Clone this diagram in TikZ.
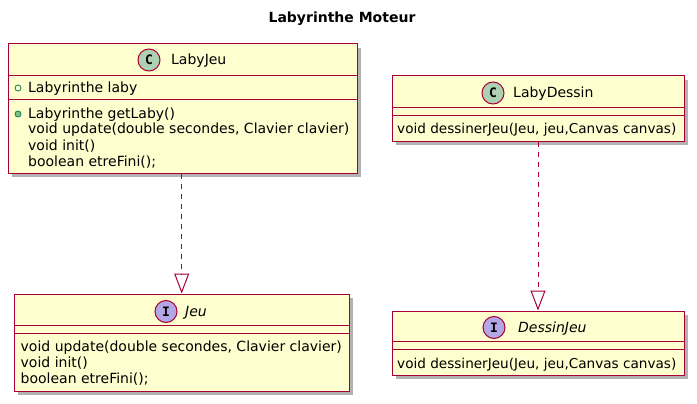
\documentclass[tikz,border=0pt]{standalone}
\usepackage{fontspec}
\setmainfont{DejaVu Sans}
\newfontfamily\spotfont{DejaVu Sans Mono}
\usepackage{tikz}
\usetikzlibrary{arrows.meta,shadows,calc}
\definecolor{umlborder}{HTML}{A80036}
\definecolor{umlfill}{HTML}{FEFECE}
\definecolor{classspot}{HTML}{ADD1B2}
\definecolor{ifacespot}{HTML}{B4A7E5}
\definecolor{visline}{HTML}{038048}
\definecolor{visfill}{HTML}{84BE84}

\begin{document}
\begin{tikzpicture}[x=1pt,y=-1pt,
  font=\fontsize{14}{16}\selectfont,
  umlbox/.style={draw=umlborder, fill=umlfill, line width=1pt, inner sep=0pt,
    drop shadow={shadow xshift=4pt, shadow yshift=-4pt, opacity=0.3, fill=black}},
  umlsep/.style={draw=umlborder, line width=1pt},
  spot/.style={circle, draw=umlborder, line width=1pt, minimum size=22pt, inner sep=0pt,
    font=\spotfont\bfseries\fontsize{13}{13}\selectfont},
  member/.style={anchor=base west, inner sep=0pt},
  narrow/.style={font=\fontsize{13.6}{16}\selectfont},
  vispub/.style={circle, draw=visline, line width=0.8pt, minimum size=6pt, inner sep=0pt},
  realize/.style={draw=umlborder, line width=1pt, dash pattern=on 5pt off 5pt,
    -{Triangle[open, length=20pt, width=15pt]}}]
\useasboundingbox (0,0) rectangle (697,404);

\node[font=\bfseries\fontsize{14}{16}\selectfont, anchor=base] (title) at (342,23) {Labyrinthe Moteur};

% LabyJeu
\node[umlbox, minimum width=349pt, minimum height=129pt] (labyjeu) at (182.5,108.5) {};
\draw[umlsep] ($(labyjeu.north west)+(0,32)$) -- ($(labyjeu.north east)+(0,32)$);
\draw[umlsep] ($(labyjeu.north west)+(0,56)$) -- ($(labyjeu.north east)+(0,56)$);
\node[spot, fill=classspot] (labyjeu-spot) at (149,60) {C};
\node[member] (labyjeu-name) at (171,65) {LabyJeu};
\node[vispub] (labyjeu-v1) at (18,88) {};
\node[member] (labyjeu-a1) at (28,93) {Labyrinthe laby};
\node[vispub, fill=visfill] (labyjeu-v2) at (18,114) {};
\node[member] (labyjeu-m1) at (28,118) {Labyrinthe getLaby()};
\node[member] (labyjeu-m2) at (28,134) {void update(double secondes, Clavier clavier)};
\node[member] (labyjeu-m3) at (28,150) {void init()};
\node[member] (labyjeu-m4) at (28,166) {boolean etreFini();};

% LabyDessin
\node[umlbox, minimum width=292pt, minimum height=65pt] (labydessin) at (538,108.5) {};
\draw[umlsep] ($(labydessin.north west)+(0,32)$) -- ($(labydessin.north east)+(0,32)$);
\draw[umlsep] ($(labydessin.north west)+(0,40)$) -- ($(labydessin.north east)+(0,40)$);
\node[spot, fill=classspot] (labydessin-spot) at (493,93) {C};
\node[member] (labydessin-name) at (513,98) {LabyDessin};
\node[member, narrow] (labydessin-m1) at (397,133) {void dessinerJeu(Jeu, jeu,Canvas canvas)};

% Jeu
\node[umlbox, minimum width=335pt, minimum height=97pt] (jeu) at (181.7,342.5) {};
\draw[umlsep] ($(jeu.north west)+(0,32)$) -- ($(jeu.north east)+(0,32)$);
\draw[umlsep] ($(jeu.north west)+(0,40)$) -- ($(jeu.north east)+(0,40)$);
\node[spot, fill=ifacespot] (jeu-spot) at (166,311.5) {I};
\node[member, font=\itshape\fontsize{14}{16}\selectfont] (jeu-name) at (185,316) {Jeu};
\node[member] (jeu-m1) at (20.5,351) {void update(double secondes, Clavier clavier)};
\node[member] (jeu-m2) at (20.5,367) {void init()};
\node[member] (jeu-m3) at (20.5,383) {boolean etreFini();};

% DessinJeu
\node[umlbox, minimum width=292pt, minimum height=64pt] (dessinjeu) at (538,343) {};
\draw[umlsep] ($(dessinjeu.north west)+(0,31)$) -- ($(dessinjeu.north east)+(0,31)$);
\draw[umlsep] ($(dessinjeu.north west)+(0,39)$) -- ($(dessinjeu.north east)+(0,39)$);
\node[spot, fill=ifacespot] (dessinjeu-spot) at (494,327.5) {I};
\node[member, font=\itshape\fontsize{14}{16}\selectfont] (dessinjeu-name) at (518,332) {DessinJeu};
\node[member, narrow] (dessinjeu-m1) at (397,368) {void dessinerJeu(Jeu, jeu,Canvas canvas)};

% realisations
\draw[realize] (jeu.north |- labyjeu.south) -- (jeu.north);
\draw[realize] (dessinjeu.north |- labydessin.south) -- (dessinjeu.north);
\end{tikzpicture}
\end{document}
